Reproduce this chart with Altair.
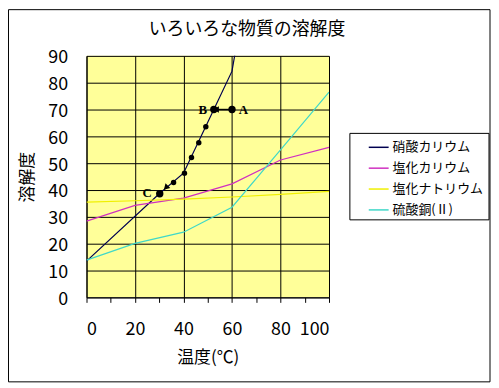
import altair as alt
import pandas as pd

# ---- data ----
names = ["硝酸カリウム", "塩化カリウム", "塩化ナトリウム", "硫酸銅(Ⅱ)"]
colors = ["#000050", "#D030C0", "#F0F000", "#40D8C8"]

temps = [0, 20, 40, 60, 80, 100]
kno3_t = [0, 30, 40, 52.5, 60, 70]
kno3_s = [13.5, 38.6, 46.3, 70.0, 84.3, 137.0]
kcl_s = [28.4, 34.3, 37.0, 42.3, 51.2, 55.9]
nacl_s = [35.5, 36.0, 36.6, 37.4, 38.4, 39.5]
cuso4_s = [13.9, 20.1, 24.3, 33.6, 55.0, 76.5]

dot_t = [35.9, 40.4, 43.3, 46.3, 49.2]
dot_s = [42.8, 46.3, 52.1, 57.6, 63.6]

big_t = [60.0, 52.5, 30.2]
big_s = [70.0, 70.0, 38.6]

label_text = ["A", "B", "C"]
label_t = [64.7, 48.0, 25.0]
label_s = [70.0, 70.0, 38.9]

arrow_from_t, arrow_to_t, arrow_s = [60.0], [53.0], [70.0]
head_t = [53.8, 33.0]
head_s = [70.0, 41.1]
head_angle = [270, 225]

title_text = "いろいろな物質の溶解度"
x_title = "温度(℃)"
y_title = "溶解度"

# ---- tables ----
rows = []
for t, s in zip(kno3_t, kno3_s):
    rows.append({"name": names[0], "t": t, "s": s})
for series, vals in zip(names[1:], [kcl_s, nacl_s, cuso4_s]):
    for t, s in zip(temps, vals):
        rows.append({"name": series, "t": t, "s": s})
lines_df = pd.DataFrame(rows)
dots_df = pd.DataFrame({"t": dot_t, "s": dot_s})
big_df = pd.DataFrame({"t": big_t, "s": big_s})
lab_df = pd.DataFrame({"t": label_t, "s": label_s, "lab": label_text})
arrow_df = pd.DataFrame({"t": arrow_from_t, "t2": arrow_to_t, "s": arrow_s})
head_df = pd.DataFrame({"t": head_t, "s": head_s, "ang": head_angle})
one = pd.DataFrame({"k": [0]})

FONT = "Noto Sans CJK JP"
xs = alt.Scale(domain=[0, 100], nice=False, zero=False)
ys = alt.Scale(domain=[0, 90], nice=False, zero=False)

grid20 = {"condition": {"test": "datum.value % 20 === 0", "value": 1}, "value": 0}

x_axis = alt.Axis(
    values=list(range(0, 101, 10)),
    labelExpr="datum.value % 20 === 0 ? datum.label : ''",
    labelOverlap=False,
    grid=True, gridColor="black", gridWidth=1, gridOpacity=grid20,
    ticks=True, tickSize=5, tickColor="black",
    domainColor="black",
    labelFont=FONT, labelFontSize=18, labelColor="black",
    labelBaseline="middle", labelPadding=27,
    title=x_title, titleFont=FONT, titleFontSize=17, titleFontWeight="normal",
    titleColor="black", titleY=61, titleBaseline="middle",
)
y_axis = alt.Axis(
    values=list(range(0, 91, 10)),
    labelOverlap=False,
    grid=True, gridColor="black", gridWidth=1,
    ticks=False, domainColor="black",
    labelFont=FONT, labelFontSize=18, labelColor="black",
    labelPadding=19, labelOffset=2,
    title=y_title, titleFont=FONT, titleFontSize=17, titleFontWeight="normal",
    titleColor="black", titleX=-59, titleY=121.5, titleAngle=-90,
    titleAlign="center", titleBaseline="middle",
)

X = alt.X("t:Q", scale=xs, axis=x_axis)
Y = alt.Y("s:Q", scale=ys, axis=y_axis)

lines = alt.Chart(lines_df).mark_line(clip=True, strokeWidth=1.2).encode(
    x=X, y=Y,
    color=alt.Color(
        "name:N",
        scale=alt.Scale(domain=names, range=colors),
        sort=names,
        legend=alt.Legend(
            title=None, orient="none", legendX=283, legendY=81,
            symbolType="stroke", symbolSize=400, symbolStrokeWidth=1.5,
            labelFont=FONT, labelFontSize=13, labelColor="black",
            labelOffset=3, rowPadding=3, padding=0,
        ),
    ),
    order="t:Q",
)

arrow = alt.Chart(arrow_df).mark_rule(color="black", strokeWidth=1.5).encode(
    x=X, x2="t2:Q", y=Y
)
heads = alt.Chart(head_df).mark_point(
    shape="triangle", filled=True, color="black", opacity=1, size=45
).encode(x=X, y=Y, angle=alt.Angle("ang:Q", scale=None))

dots = alt.Chart(dots_df).mark_circle(color="black", opacity=1, size=30).encode(x=X, y=Y)
bigs = alt.Chart(big_df).mark_circle(color="black", opacity=1, size=55).encode(x=X, y=Y)
labels = alt.Chart(lab_df).mark_text(
    font="Liberation Serif", fontWeight="bold", fontSize=13, color="black",
    align="center", baseline="middle"
).encode(x=X, y=Y, text="lab:N")

title = alt.Chart(one).mark_text(
    text=title_text, font=FONT, fontSize=18, color="black",
    align="center", baseline="middle"
).encode(x=alt.value(161.5), y=alt.value(-25.5))

frame = alt.Chart(one).mark_rect(fill=None, stroke="black", strokeWidth=1).encode(
    x=alt.value(-78.5), x2=alt.value(406), y=alt.value(-46.5), y2=alt.value(328)
)
legend_box = alt.Chart(one).mark_rect(fill="white", stroke="black", strokeWidth=1).encode(
    x=alt.value(265), x2=alt.value(405), y=alt.value(78), y2=alt.value(165)
)

chart = alt.layer(
    lines, frame, legend_box, arrow, heads, dots, bigs, labels, title
).properties(
    width=244, height=243,
    autosize=alt.AutoSizeParams(type="none"),
    padding={"left": 79, "top": 47, "right": 163, "bottom": 86},
    background="white",
).configure_view(fill="#FFFF99", stroke=None)

chart.save("out.html", embed_options={"renderer": "svg", "actions": False})
